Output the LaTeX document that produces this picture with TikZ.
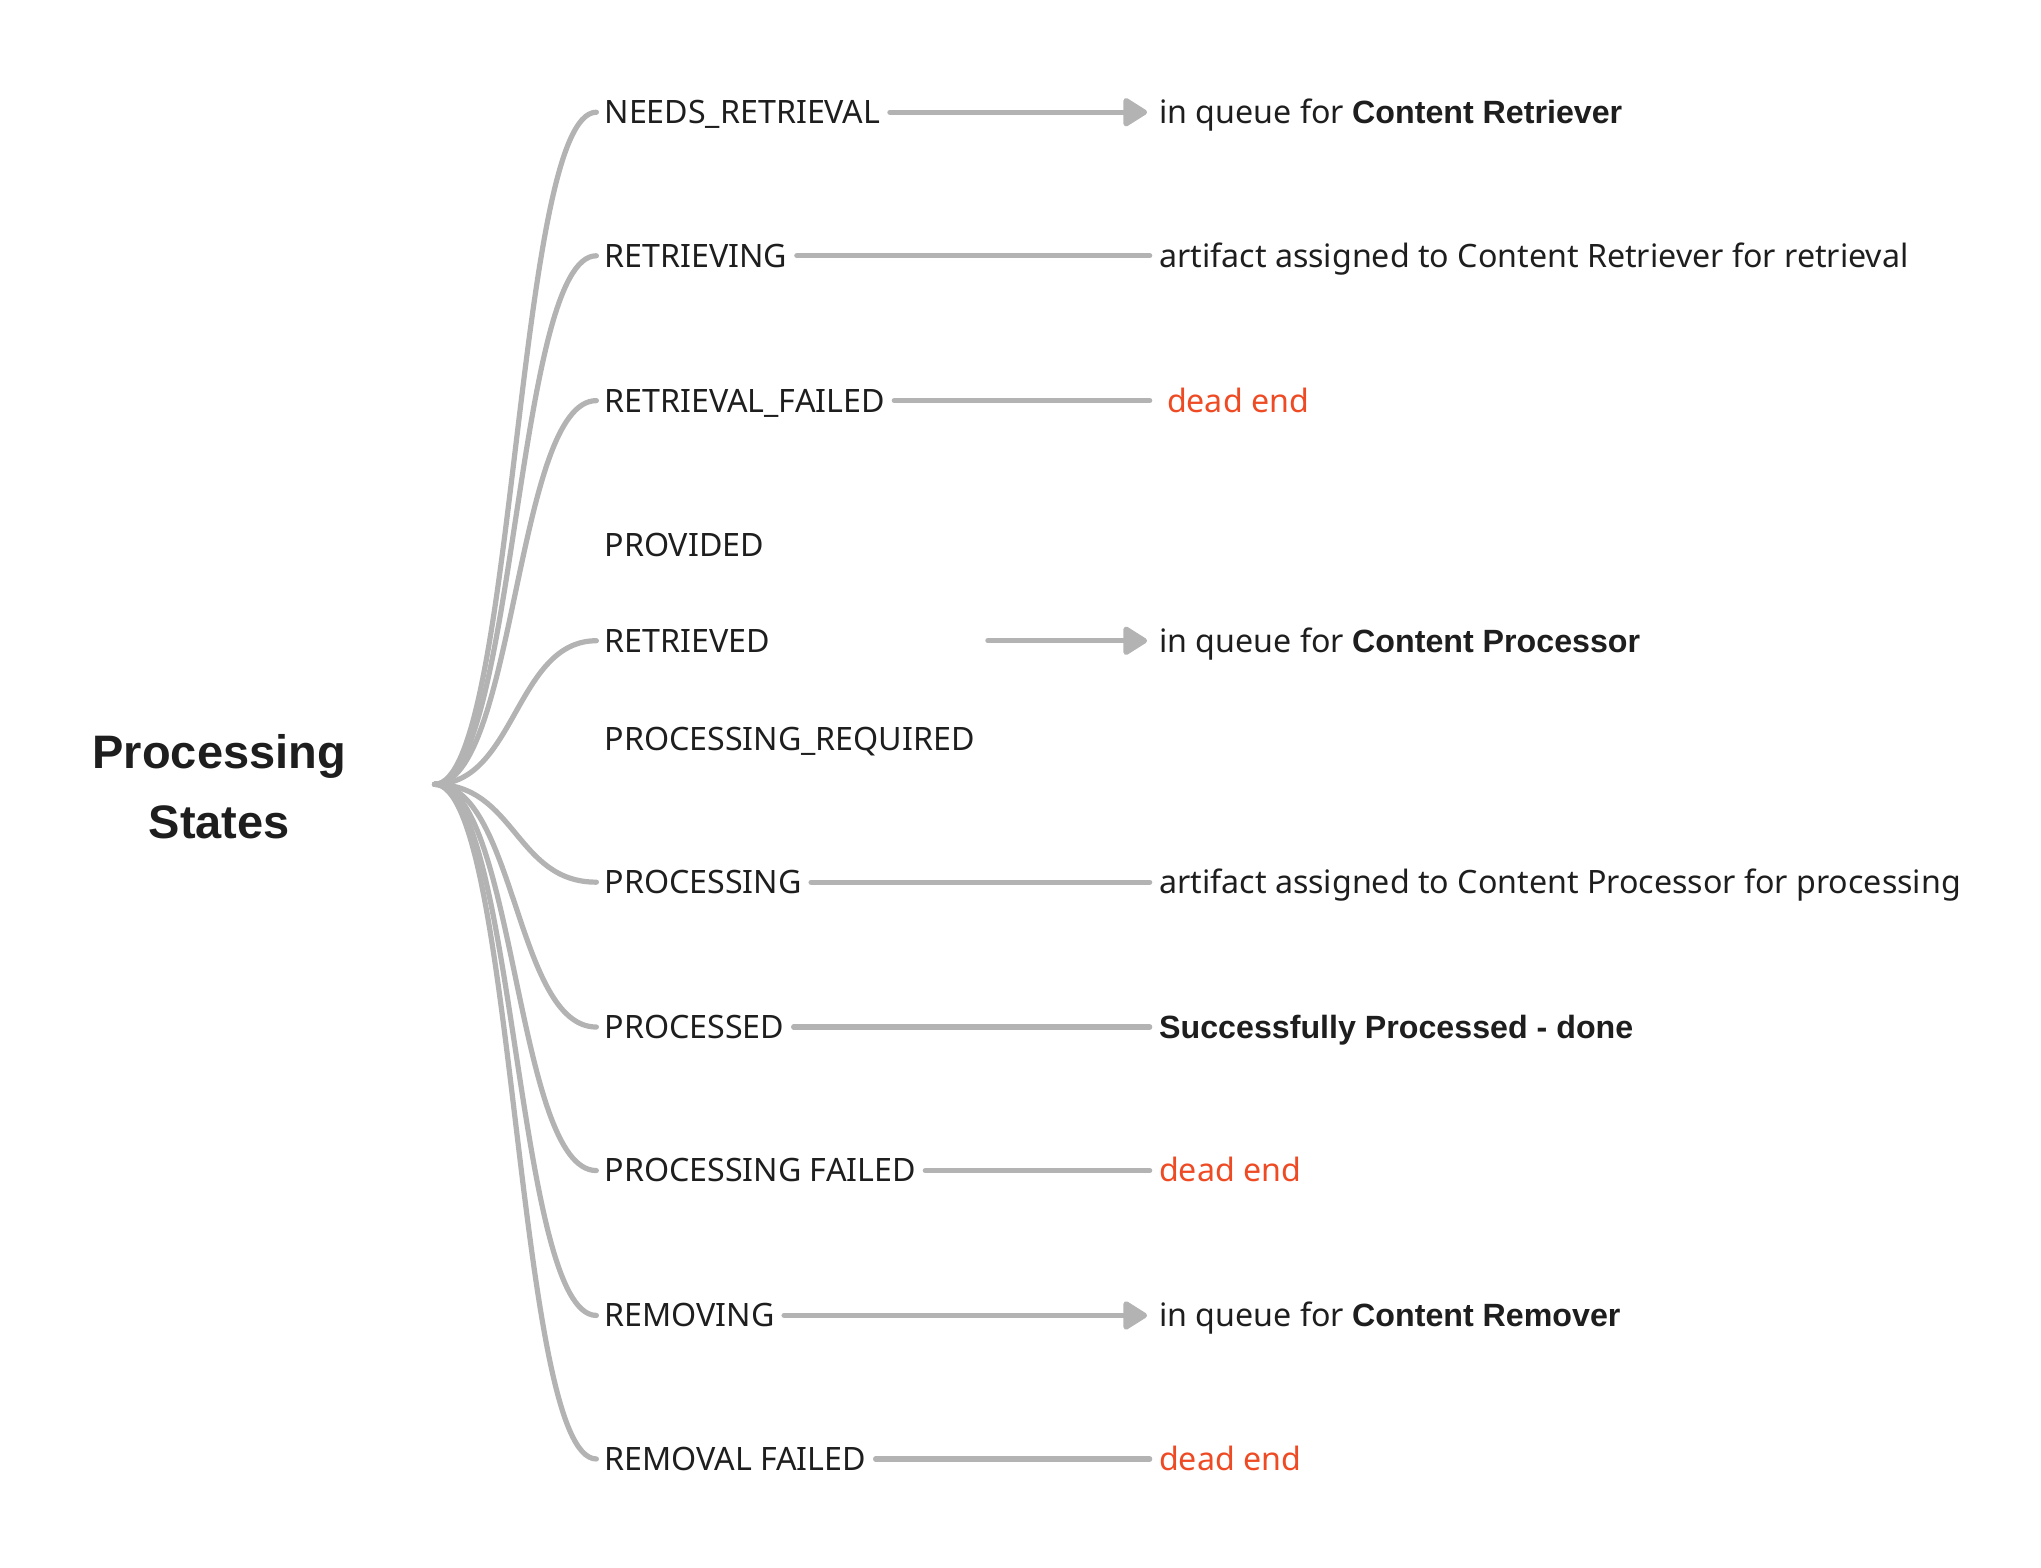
\documentclass[tikz,border=0pt]{standalone}
\usepackage{fontspec}
\setmainfont{Noto Sans}
\newfontfamily\lbfam{Liberation Sans}
\newcommand\boldtxt[1]{{\lbfam\bfseries #1}}
\usetikzlibrary{arrows.meta}
\definecolor{ink}{HTML}{1E1E1E}
\definecolor{wire}{HTML}{B3B3B3}
\definecolor{deadred}{HTML}{EE4A24}
\begin{document}
\begin{tikzpicture}[x=0.75pt,y=-0.75pt,
  lbl/.style={anchor=west, inner sep=0pt, text height=13.1pt, text depth=0pt,
    font=\fontsize{18.5pt}{22pt}\selectfont, text=ink},
  dead/.style={lbl, text=deadred},
  wirel/.style={draw=wire, line width=3pt, line cap=round, line join=round},
  branch/.style={wirel},
  plainl/.style={wirel, shorten <=5.25pt, shorten >=5.25pt},
  arrowl/.style={wirel, shorten <=5.25pt, shorten >=6.75pt,
    -{Triangle[length=15pt,width=18pt,round]}},
  titlestyle/.style={font=\lbfam\bfseries\fontsize{27pt}{40.5pt}\selectfont, align=center, text=ink, inner sep=0pt}
  ]
\useasboundingbox (0,0) rectangle (1564,1201);

\node[titlestyle] (title) at (168,603) {Processing\\States};
\coordinate (root) at (333,601);

% state labels
\node[lbl] (s1)  at (463,86)   {NEEDS\_RETRIEVAL};
\node[lbl] (s2)  at (463,196)  {RETRIEVING};
\node[lbl] (s3)  at (463,307)  {RETRIEVAL\_FAILED};
\node[lbl] (s4)  at (463,418)  {PROVIDED};
\node[lbl] (s5)  at (463,491)  {RETRIEVED};
\node[lbl] (s6)  at (463,566)  {PROCESSING\_REQUIRED};
\node[lbl] (s7)  at (463,676)  {PROCESSING};
\node[lbl] (s8)  at (463,787)  {PROCESSED};
\node[lbl] (s9)  at (463,897)  {PROCESSING FAILED};
\node[lbl] (s10) at (463,1008) {REMOVING};
\node[lbl] (s11) at (463,1118) {REMOVAL FAILED};

% right-hand descriptions
\node[lbl]  (t1)  at (888,86)   {in queue for \boldtxt{Content Retriever}};
\node[lbl]  (t2)  at (888,196)  {artifact assigned to Content Retriever for retrieval};
\node[dead] (t3)  at (888,307)  {\hspace*{4.5pt}dead end};
\node[lbl]  (t5)  at (888,491)  {in queue for \boldtxt{Content Processor}};
\node[lbl]  (t7)  at (888,676)  {artifact assigned to Content Processor for processing};
\node[lbl]  (t8)  at (888,787)  {\boldtxt{Successfully Processed - done}};
\node[dead] (t9)  at (888,897)  {dead end};
\node[lbl]  (t10) at (888,1008) {in queue for \boldtxt{Content Remover}};
\node[dead] (t11) at (888,1118) {dead end};

% branches from the root
\foreach \s in {s1,s2,s3,s5,s7,s8,s9,s10,s11}{
  \draw[branch] (root) .. controls +(62,0) and +(-62,0) .. ([xshift=-4.5pt]\s.west);
}

% connectors
\coordinate (r5) at (750,491);
\draw[arrowl] (s1.east) -- (t1.west);
\draw[plainl] (s2.east) -- (t2.west);
\draw[plainl] (s3.east) -- (t3.west);
\draw[arrowl] (r5) -- (t5.west);
\draw[plainl] (s7.east) -- (t7.west);
\draw[plainl] (s8.east) -- (t8.west);
\draw[plainl] (s9.east) -- (t9.west);
\draw[arrowl] (s10.east) -- (t10.west);
\draw[plainl] (s11.east) -- (t11.west);
\end{tikzpicture}
\end{document}
